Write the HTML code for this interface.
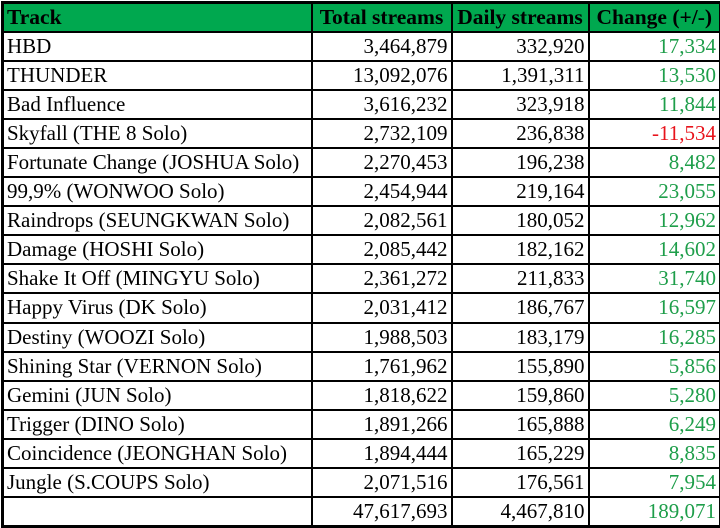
<!DOCTYPE html>
<html><head><meta charset="utf-8"><style>
body{margin:0;width:720px;height:527px;background:#fff;overflow:hidden;font-family:"Liberation Serif",serif;}
table{position:absolute;left:1px;top:1px;width:718px;border-collapse:collapse;table-layout:fixed;border:3px solid #000;}
tr{height:29.1px;}
td,th{border:2px solid #000;height:27.1px;padding:0 3px;font-size:21px;line-height:25px;white-space:nowrap;overflow:hidden;box-sizing:border-box;}
th{background:#00a84f;font-weight:bold;text-align:center;font-size:21.5px;}
th:first-child{text-align:left;}
td{text-align:right;}
td:first-child{text-align:left;padding-left:3px;}
.g{color:#1e9e4a}.r{color:#e8141c}
</style></head><body>
<table>
<colgroup><col style="width:309px"><col style="width:140px"><col style="width:137px"><col style="width:132px"></colgroup>
<tr><th>Track</th><th>Total streams</th><th>Daily streams</th><th>Change (+/-)</th></tr>
<tr><td>HBD</td><td>3,464,879</td><td>332,920</td><td class="g">17,334</td></tr>
<tr><td>THUNDER</td><td>13,092,076</td><td>1,391,311</td><td class="g">13,530</td></tr>
<tr><td>Bad Influence</td><td>3,616,232</td><td>323,918</td><td class="g">11,844</td></tr>
<tr><td>Skyfall (THE 8 Solo)</td><td>2,732,109</td><td>236,838</td><td class="r">-11,534</td></tr>
<tr><td>Fortunate Change (JOSHUA Solo)</td><td>2,270,453</td><td>196,238</td><td class="g">8,482</td></tr>
<tr><td>99,9% (WONWOO Solo)</td><td>2,454,944</td><td>219,164</td><td class="g">23,055</td></tr>
<tr><td>Raindrops (SEUNGKWAN Solo)</td><td>2,082,561</td><td>180,052</td><td class="g">12,962</td></tr>
<tr><td>Damage (HOSHI Solo)</td><td>2,085,442</td><td>182,162</td><td class="g">14,602</td></tr>
<tr><td>Shake It Off (MINGYU Solo)</td><td>2,361,272</td><td>211,833</td><td class="g">31,740</td></tr>
<tr><td>Happy Virus (DK Solo)</td><td>2,031,412</td><td>186,767</td><td class="g">16,597</td></tr>
<tr><td>Destiny (WOOZI Solo)</td><td>1,988,503</td><td>183,179</td><td class="g">16,285</td></tr>
<tr><td>Shining Star (VERNON Solo)</td><td>1,761,962</td><td>155,890</td><td class="g">5,856</td></tr>
<tr><td>Gemini (JUN Solo)</td><td>1,818,622</td><td>159,860</td><td class="g">5,280</td></tr>
<tr><td>Trigger (DINO Solo)</td><td>1,891,266</td><td>165,888</td><td class="g">6,249</td></tr>
<tr><td>Coincidence (JEONGHAN Solo)</td><td>1,894,444</td><td>165,229</td><td class="g">8,835</td></tr>
<tr><td>Jungle (S.COUPS Solo)</td><td>2,071,516</td><td>176,561</td><td class="g">7,954</td></tr>
<tr><td></td><td>47,617,693</td><td>4,467,810</td><td class="g">189,071</td></tr>
</table>
</body></html>
